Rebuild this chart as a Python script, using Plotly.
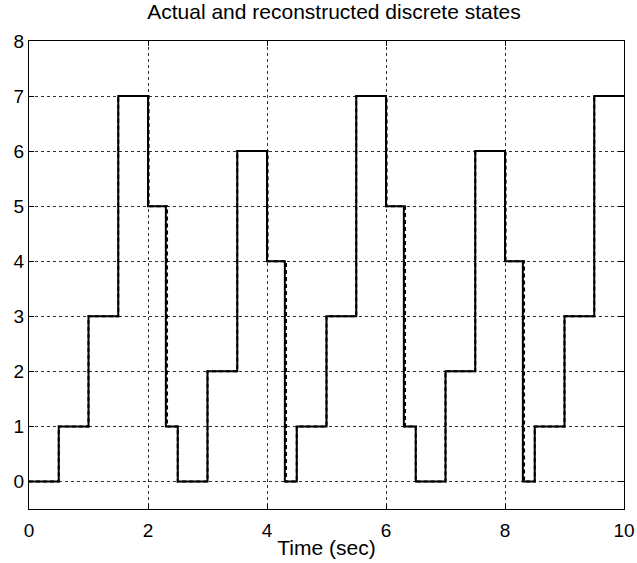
import plotly.graph_objects as go

# Actual discrete state switching times and values
actual_times = [0, 0.5, 1.0, 1.5, 2.0, 2.3, 2.5, 3.0, 3.5, 4.0, 4.3, 4.5,
                5.0, 5.5, 6.0, 6.3, 6.5, 7.0, 7.5, 8.0, 8.3, 8.5, 9.0, 9.5, 10.0]
actual_states = [0, 1, 3, 7, 5, 1, 0, 2, 6, 4, 0, 1,
                 3, 7, 5, 1, 0, 2, 6, 4, 0, 1, 3, 7, 7]

# Reconstructed states (slightly delayed on some transitions)
recon_times = [0, 0.5, 1.0, 1.5, 2.01, 2.32, 2.5, 3.0, 3.5, 4.01, 4.32, 4.5,
               5.0, 5.5, 6.01, 6.32, 6.5, 7.0, 7.5, 8.01, 8.32, 8.5, 9.0, 9.5, 10.0]
recon_states = [0, 1, 3, 7, 5, 1, 0, 2, 6, 4, 0, 1,
                3, 7, 5, 1, 0, 2, 6, 4, 0, 1, 3, 7, 7]

x_ticks = [0, 2, 4, 6, 8, 10]
y_ticks = [0, 1, 2, 3, 4, 5, 6, 7, 8]

fig = go.Figure()
fig.add_trace(go.Scatter(x=actual_times, y=actual_states, mode="lines",
                         line=dict(shape="hv", color="black", width=2),
                         name="Actual", showlegend=False))
fig.add_trace(go.Scatter(x=recon_times, y=recon_states, mode="lines",
                         line=dict(shape="hv", color="black", width=2, dash="4px,3px"),
                         name="Reconstructed", showlegend=False))

font = "Liberation Sans, Arial, Helvetica, sans-serif"
fig.update_layout(
    width=637, height=563,
    margin=dict(l=29, r=13, t=41, b=54, autoexpand=False),
    paper_bgcolor="white", plot_bgcolor="white",
    title=dict(text="Actual and reconstructed discrete states", x=(29 + 624) / 2 / 637,
               xanchor="center", xref="paper", y=1 - 12/563, yanchor="middle",
               font=dict(family=font, size=21, color="black")),
    font=dict(family=font, size=19, color="black"),
)
fig.update_xaxes(range=[0, 10], tickvals=x_ticks, ticktext=[str(v) for v in x_ticks],
                 showline=True, linecolor="black", linewidth=1, mirror="ticks",
                 ticks="inside", ticklen=5, tickcolor="black", automargin=False,
                 ticklabelstandoff=4,
                 showgrid=True, gridcolor="#333", griddash="3px,3px", gridwidth=1,
                 zeroline=False,
                 title=dict(text="Time (sec)", standoff=0, font=dict(size=21)))
fig.update_yaxes(range=[-0.5, 8], tickvals=y_ticks, ticktext=[str(v) for v in y_ticks],
                 showline=True, linecolor="black", linewidth=1, mirror="ticks",
                 ticks="inside", ticklen=5, tickcolor="black", automargin=False,
                 ticklabelstandoff=0,
                 showgrid=True, gridcolor="#333", griddash="3px,3px", gridwidth=1,
                 zeroline=False)

fig.write_html("out.html", config={"displayModeBar": False},
               post_script="document.body.style.margin='0';")
